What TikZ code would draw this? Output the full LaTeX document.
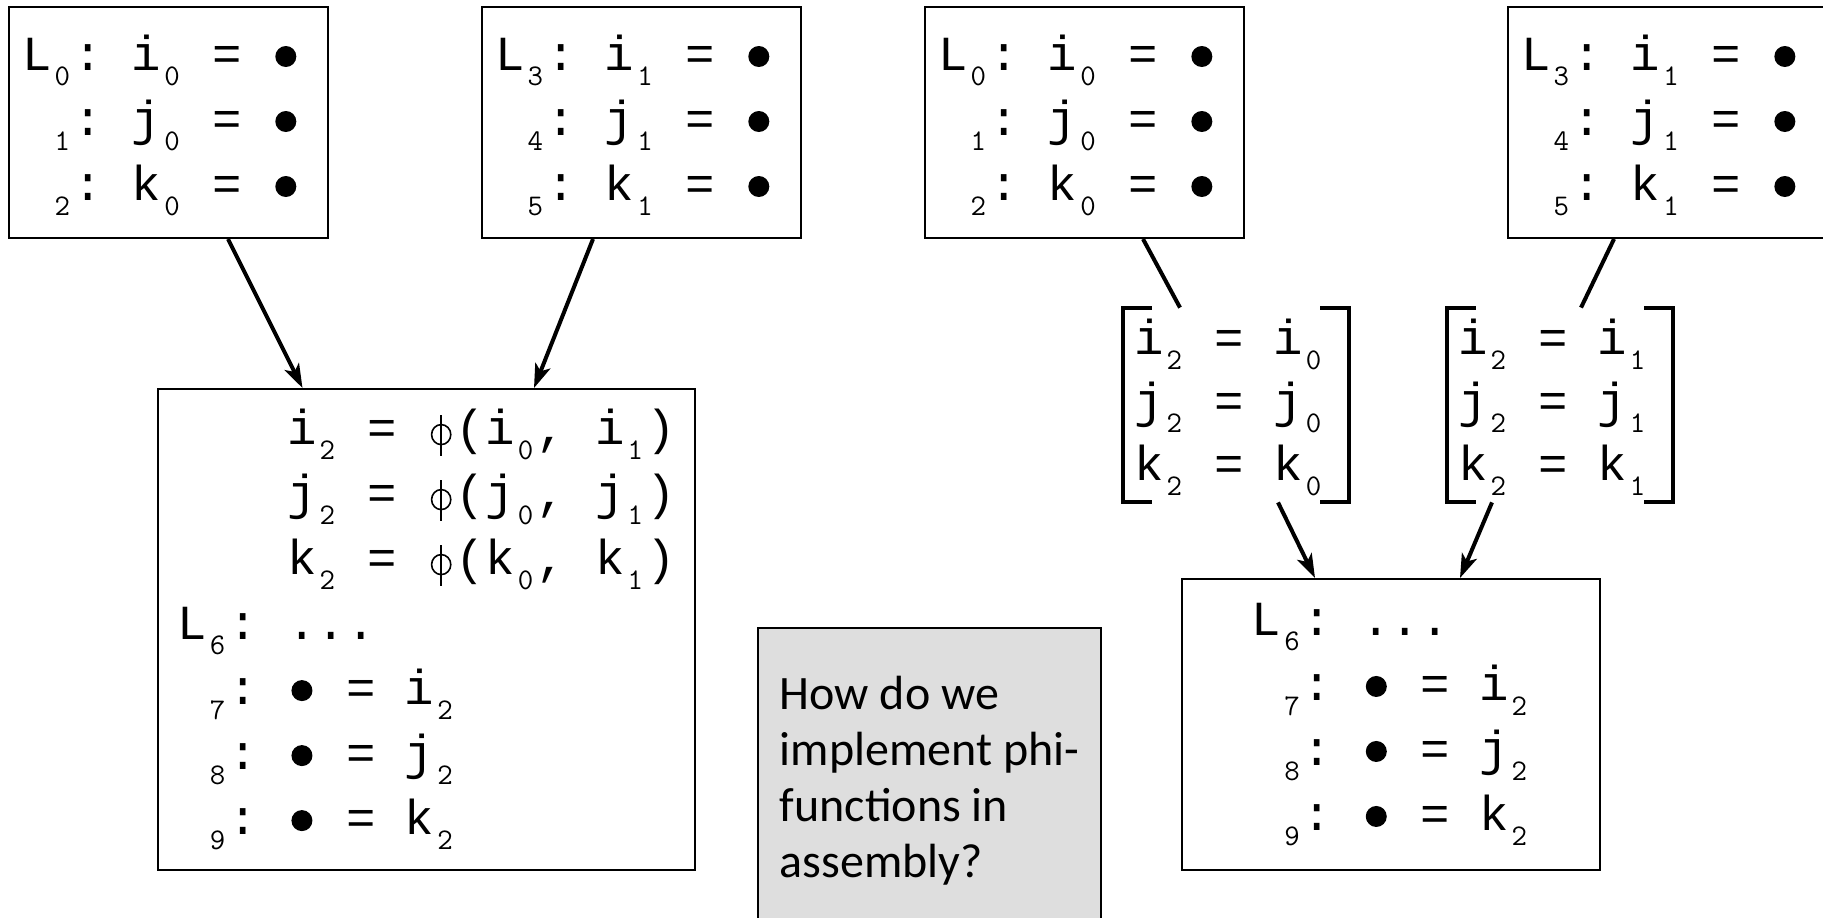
\documentclass[tikz,border=0pt]{standalone}
\usepackage{fontspec}
\usepackage{tikz}
\usetikzlibrary{arrows.meta}
\usetikzlibrary{calc}
\newfontfamily\codefont{Liberation Mono}
\newfontfamily\subfont{Latin Modern Mono}
\newfontfamily\notefont{Carlito}
\definecolor{notegray}{RGB}{222,222,222}
\newcommand{\ix}[1]{\kern1.55pt\raisebox{-7.5pt}{\subfont\fontsize{15}{15}\selectfont #1}\kern1.55pt\relax}
\newcommand{\blob}{\makebox[14.7pt]{\tikz[baseline=-7pt]\fill (0,0) circle (5.25pt);}}
\newcommand{\phig}{\makebox[14.7pt]{\tikz[baseline=0pt,line width=0.8pt]{%
    \draw (0,5pt) ellipse (4.8pt and 5pt); \draw (0,-5.5pt) -- (0,15pt);}}}
\newcommand{\codesize}[1]{\codefont\fontsize{24.5}{#1}\selectfont\frenchspacing}
\newcommand{\codelines}[2]{\makebox[#1][l]{\begin{tabular}{@{}l@{}}#2\end{tabular}}}
\tikzstyle{block} = [draw, line width=1pt, rectangle, minimum height=115.5pt,
    inner xsep=6.5pt, font={\codesize{32.5}}]
\tikzstyle{bigblock} = [draw, line width=1pt, rectangle, align=left,
    font={\codesize{32.5}}]
\tikzstyle{move} = [rectangle, minimum height=97pt, inner xsep=5.5pt,
    inner ysep=0pt, font={\codesize{31.5}}]
\tikzstyle{note} = [draw, line width=0.8pt, fill=notegray, align=left,
    minimum width=171.5pt, minimum height=153pt,
    font=\notefont\fontsize{24}{28}\selectfont]
\tikzstyle{bracket} = [line width=2pt]
\tikzstyle{link} = [line width=2pt]

\begin{document}
\begin{tikzpicture}[x=0.5pt,y=-0.5pt,>={Stealth[length=12pt,width=8pt,inset=3pt]}]
    \useasboundingbox (0,0) rectangle (1823,917);
    \clip (0,0) rectangle (1823,917);
    % left: blocks joined by phi-functions
    \node [block] at (168.5,122.5) (blockA) {\codelines{146.5pt}{L\ix{0}: i\ix{0} = \blob\\
        \phantom{L}\ix{1}: j\ix{0} = \blob\\
        \phantom{L}\ix{2}: k\ix{0} = \blob}};
    \node [block] at (641.5,122.5) (blockB) {\codelines{146.5pt}{L\ix{3}: i\ix{1} = \blob\\
        \phantom{L}\ix{4}: j\ix{1} = \blob\\
        \phantom{L}\ix{5}: k\ix{1} = \blob}};
    \node [bigblock, minimum width=268.5pt, minimum height=240.5pt] at (426.5,629.5) (blockC) {%
        \phantom{L\ix{6}:} i\ix{2} = \phig(i\ix{0}, i\ix{1})\\
        \phantom{L\ix{6}:} j\ix{2} = \phig(j\ix{0}, j\ix{1})\\
        \phantom{L\ix{6}:} k\ix{2} = \phig(k\ix{0}, k\ix{1})\\
        L\ix{6}: ...\\
        \phantom{L}\ix{7}: \blob{} = i\ix{2}\\
        \phantom{L}\ix{8}: \blob{} = j\ix{2}\\
        \phantom{L}\ix{9}: \blob{} = k\ix{2}};
    \draw [link, ->] ([xshift=29.75pt]blockA.south) -- ([xshift=-62pt]blockC.north);
    \draw [link, ->] ([xshift=-24.25pt]blockB.south) -- ([xshift=53.75pt]blockC.north);
    % the question
    \node [note] at (929.5,781) (question) {How do we\\implement phi-\\functions in\\assembly?};
    % right: blocks joined by moves
    \node [block] at (1084.5,122.5) (blockD) {\codelines{146.5pt}{L\ix{0}: i\ix{0} = \blob\\
        \phantom{L}\ix{1}: j\ix{0} = \blob\\
        \phantom{L}\ix{2}: k\ix{0} = \blob}};
    \node [block] at (1667.5,122.5) (blockE) {\codelines{146.5pt}{L\ix{3}: i\ix{1} = \blob\\
        \phantom{L}\ix{4}: j\ix{1} = \blob\\
        \phantom{L}\ix{5}: k\ix{1} = \blob}};
    \node [move] at (1236,405) (moveF) {\codelines{102pt}{i\ix{2} = i\ix{0}\\j\ix{2} = j\ix{0}\\k\ix{2} = k\ix{0}}};
    \node [move] at (1560,405) (moveG) {\codelines{102pt}{i\ix{2} = i\ix{1}\\j\ix{2} = j\ix{1}\\k\ix{2} = k\ix{1}}};
    \draw [bracket] ([xshift=14.5pt]moveF.north west) -| (moveF.south west) -- ++(14.5pt,0);
    \draw [bracket] ([xshift=-14.5pt]moveF.north east) -| (moveF.south east) -- ++(-14.5pt,0);
    \draw [bracket] ([xshift=14.5pt]moveG.north west) -| (moveG.south west) -- ++(14.5pt,0);
    \draw [bracket] ([xshift=-14.5pt]moveG.north east) -| (moveG.south east) -- ++(-14.5pt,0);
    \node [bigblock, minimum width=209pt, minimum height=145.5pt] at (1391,724.5) (blockH) {%
        L\ix{6}: ...\\
        \phantom{L}\ix{7}: \blob{} = i\ix{2}\\
        \phantom{L}\ix{8}: \blob{} = j\ix{2}\\
        \phantom{L}\ix{9}: \blob{} = k\ix{2}};
    \draw [link] ([xshift=29.25pt]blockD.south) -- ([xshift=-28pt]moveF.north);
    \draw [link] ([xshift=-26.75pt]blockE.south) -- ([xshift=10.5pt]moveG.north);
    \draw [link, ->] ([xshift=21pt]moveF.south) -- ([xshift=-38pt]blockH.north);
    \draw [link, ->] ([xshift=-34pt]moveG.south) -- ([xshift=34.5pt]blockH.north);
\end{tikzpicture}
\end{document}
